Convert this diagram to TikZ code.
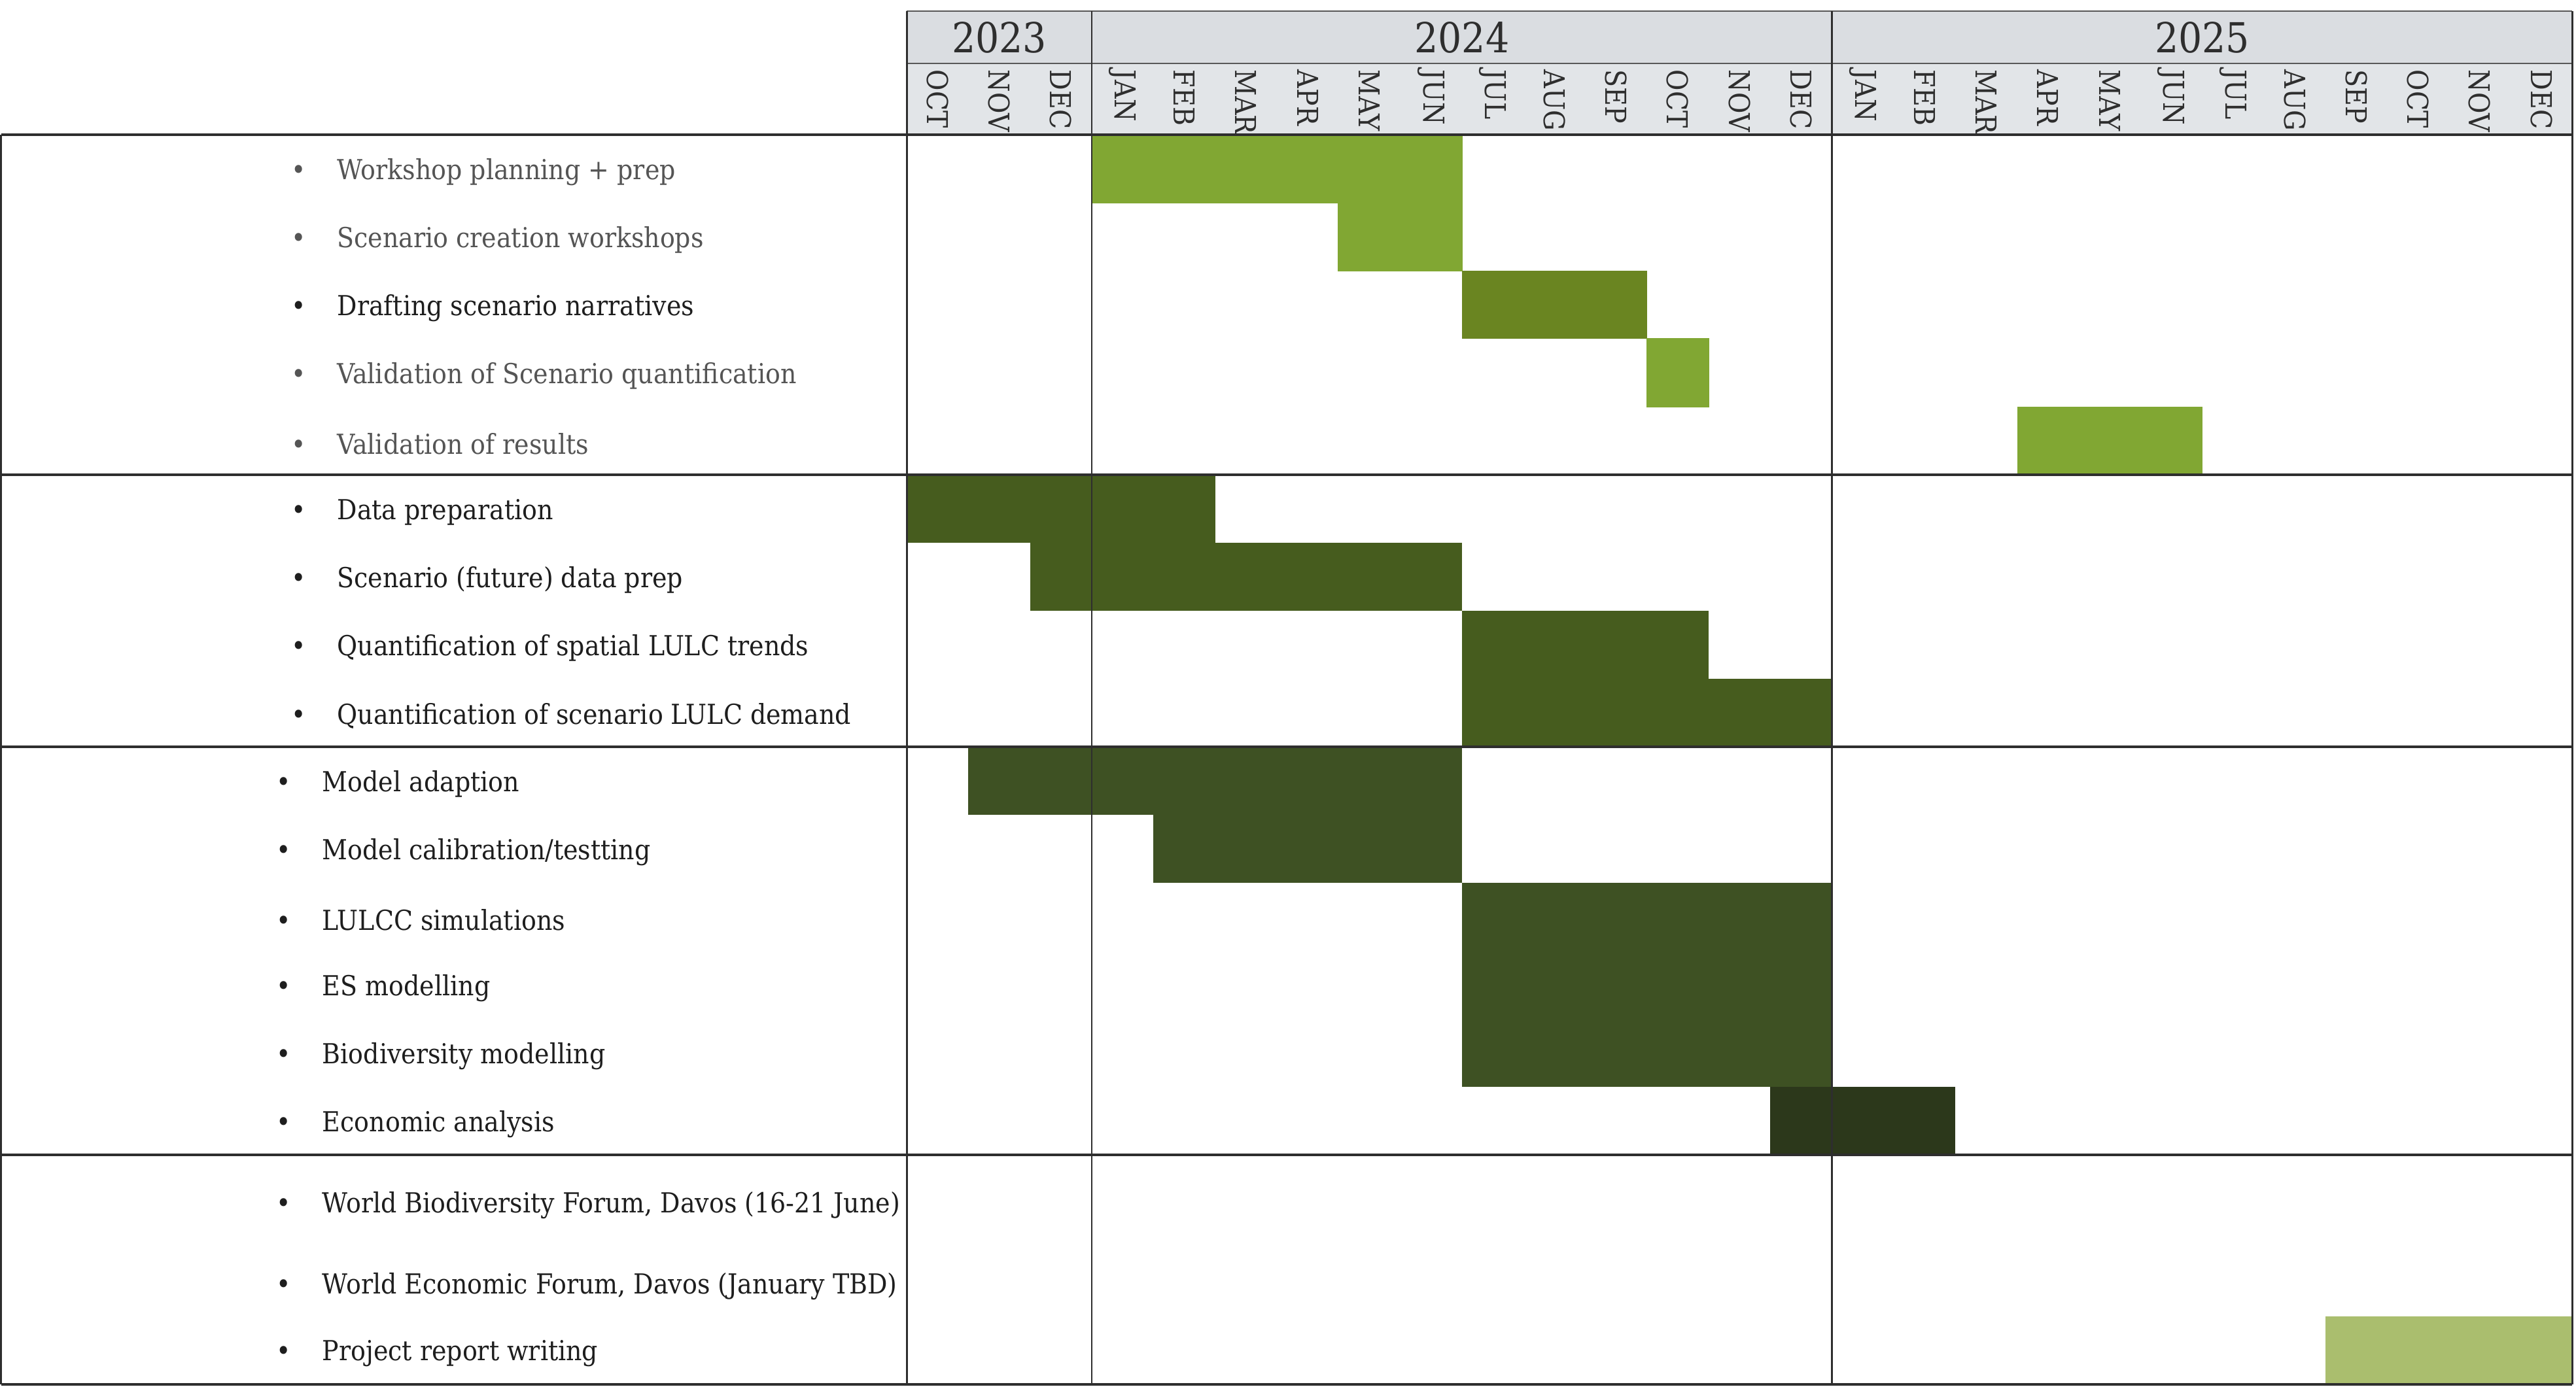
\documentclass[tikz,border=0pt]{standalone}
\usepackage{fontspec}
\setmainfont{DejaVu Serif Condensed}
\usepackage{xcolor}
\usepackage{tikz}
\usetikzlibrary{positioning}
\definecolor{leafx}{HTML}{81A733}
\definecolor{olivex}{HTML}{6A8521}
\definecolor{mossx}{HTML}{465C1E}
\definecolor{forestx}{HTML}{3E5123}
\definecolor{darkx}{HTML}{2C381B}
\definecolor{palex}{HTML}{AABE6E}
\definecolor{yearbg}{HTML}{DADDE1}
\definecolor{monbg}{HTML}{E2E5E8}
\definecolor{linex}{HTML}{2E2E2E}
\definecolor{softtxt}{HTML}{555555}
\definecolor{hardtxt}{HTML}{1E1E1E}
\tikzset{
  gline/.style={linex,line width=1.1pt},
  vline/.style={linex,line width=0.8pt},
  edged/.style={draw=linex,line width=0.6pt},
  yr/.style={font=\fontsize{18}{20}\selectfont,text=linex,inner sep=0pt},
  mon/.style={font=\fontsize{12.5}{14}\selectfont,text=linex,rotate=-90,anchor=west,inner sep=0pt},
  task/.style={font=\fontsize{12}{14}\selectfont,anchor=west,inner sep=0pt,text=hardtxt,yshift=-0.5mm},
  soft/.style={text=softtxt}
}
\newcommand\bul[1]{\makebox[0.70cm][l]{\textbullet}#1}

\begin{document}
\begin{tikzpicture}[x=0.943cm,y=-1.04cm]
\useasboundingbox (-14.698,-1.981) rectangle (27.06,18.404);
% header
\fill[yearbg] (0,-1.817) rectangle (27,-1.048);
\fill[monbg] (0,-1.048) rectangle (27,0);
\draw[vline,linex!80] (0,-1.817) -- (27,-1.817) (0,-1.048) -- (27,-1.048);
\node[yr] (y23) at (1.5,-1.43) {2023};
\node[yr] (y24) at (9,-1.43) {2024};
\node[yr] (y25) at (21,-1.43) {2025};
\foreach \m [count=\i from 0] in {OCT,NOV,DEC,JAN,FEB,MAR,APR,MAY,JUN,JUL,AUG,SEP,OCT,NOV,DEC,JAN,FEB,MAR,APR,MAY,JUN,JUL,AUG,SEP,OCT,NOV,DEC}
  \node[mon] (m\i) at (\i+0.5,-0.96) {\m};

% bars
\fill[edged,leafx] (3,0) rectangle (9,1);
\fill[edged,leafx] (7,1) rectangle (9,2);
\fill[olivex] (9,2) rectangle (12,3);
\fill[edged,leafx] (12,3) rectangle (13,4);
\fill[leafx] (18,4) rectangle (21,5);
\fill[mossx] (0,5) rectangle (5,6);
\fill[mossx] (2,6) rectangle (9,7);
\fill[mossx] (9,7) rectangle (13,8);
\fill[mossx] (9,8) rectangle (15,9);
\fill[forestx] (1,9) rectangle (9,10);
\fill[forestx] (4,10) rectangle (9,11);
\fill[forestx] (9,11) rectangle (15,14);
\fill[darkx] (14,14) rectangle (17,15);
\fill[palex] (23,17.375) rectangle (27,18.375);

% grid
\foreach \y in {0,5,9,15,18.375}
  \draw[gline] (-14.68,\y) -- (27,\y);
\foreach \x in {0,3,15,27}
  \draw[vline] (\x,-1.817) -- (\x,18.375);
\draw[vline] (-14.68,0) -- (-14.68,18.375);

% tasks
\node[task,soft] (t1) at (-9.98,0.5) {\bul{Workshop planning + prep}};
\node[task,soft] (t2) at (-9.98,1.5) {\bul{Scenario creation workshops}};
\node[task] (t3) at (-9.98,2.5) {\bul{Drafting scenario narratives}};
\node[task,soft] (t4) at (-9.98,3.5) {\bul{Validation of Scenario quantification}};
\node[task,soft] (t5) at (-9.98,4.5) {\bul{Validation of results}};
\node[task] (t6) at (-9.98,5.5) {\bul{Data preparation}};
\node[task] (t7) at (-9.98,6.5) {\bul{Scenario (future) data prep}};
\node[task] (t8) at (-9.98,7.5) {\bul{Quantification of spatial LULC trends}};
\node[task] (t9) at (-9.98,8.5) {\bul{Quantification of scenario LULC demand}};
\node[task] (t10) at (-10.22,9.5) {\bul{Model adaption}};
\node[task] (t11) at (-10.22,10.5) {\bul{Model calibration/testting}};
\node[task] (t12) at (-10.22,11.5) {\bul{LULCC simulations}};
\node[task] (t13) at (-10.22,12.5) {\bul{ES modelling}};
\node[task] (t14) at (-10.22,13.5) {\bul{Biodiversity modelling}};
\node[task] (t15) at (-10.22,14.5) {\bul{Economic analysis}};
\node[task] (t16) at (-10.22,15.69) {\bul{World Biodiversity Forum, Davos (16-21 June)}};
\node[task] (t17) at (-10.22,16.88) {\bul{World Economic Forum, Davos (January TBD)}};
\node[task] (t18) at (-10.22,17.875) {\bul{Project report writing}};
\end{tikzpicture}
\end{document}
